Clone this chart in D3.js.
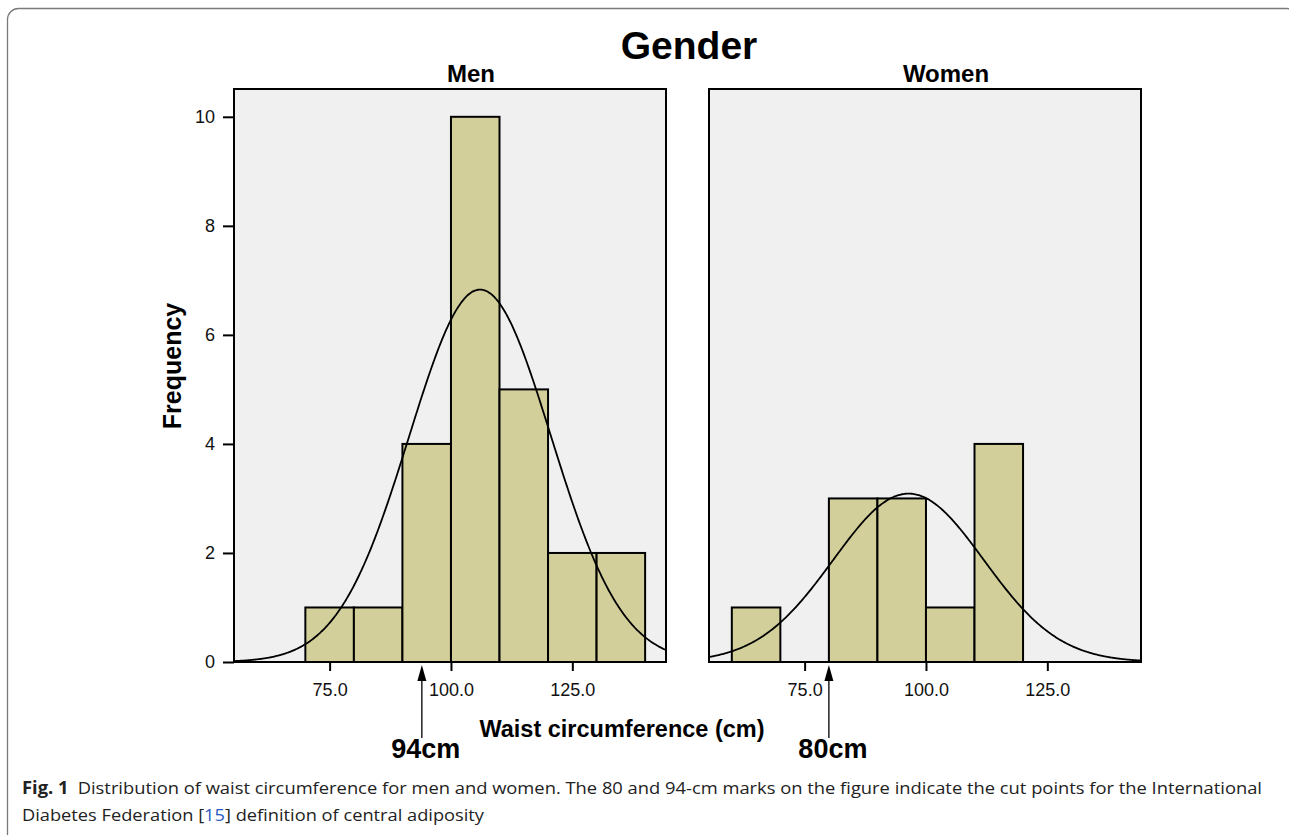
<!DOCTYPE html>
<html><head><meta charset="utf-8">
<script src="https://cdn.jsdelivr.net/npm/d3@7"></script>
<style>body{margin:0;background:#fff}svg{display:block}</style>
</head><body>
<svg id="c" width="1289" height="835"></svg>
<script>
// ---- data ----
const binStarts = [60, 70, 80, 90, 100, 110, 120, 130];
const binWidth = 10;
const menCounts   = [0, 1, 1, 4, 10, 5, 2, 2];
const womenCounts = [1, 0, 3, 3, 1, 4, 0, 0];
const menCurve   = {mean: 106.0, sd: 14.6, n: 25};
const womenCurve = {mean: 96.4,  sd: 15.5, n: 12};
const panels = ["Men", "Women"];
const xTicks = [75, 100, 125];
const yTicks = [0, 2, 4, 6, 8, 10];
const cutPoints = [94, 80];
const cutLabels = ["94cm", "80cm"];

const svg = d3.select("#c");
const FONT = "'Liberation Sans', Arial, sans-serif";

// outer frame
svg.append("rect").attr("x", 7.5).attr("y", 8.5).attr("width", 1290).attr("height", 860)
  .attr("rx", 11).attr("fill", "#fff").attr("stroke", "#7a7a7a").attr("stroke-width", 1.3);

const pTop = 89, pBottom = 662;
const panelX = [[234, 666], [709, 1141]];
const xDomain = [55.3, 144.3];
const y = d3.scaleLinear().domain([0, 10.51]).range([pBottom, pTop]);

const seriesList = [menCounts, womenCounts];
const curves = [menCurve, womenCurve];

panels.forEach((name, i) => {
  const [x0, x1] = panelX[i];
  const x = d3.scaleLinear().domain(xDomain).range([x0, x1]);
  const g = svg.append("g");
  g.append("rect").attr("x", x0).attr("y", pTop).attr("width", x1 - x0).attr("height", pBottom - pTop)
    .attr("fill", "#f0f0f0");
  // bars
  const data = binStarts.map((s, k) => ({s, c: seriesList[i][k]})).filter(d => d.c > 0);
  g.selectAll("rect.bar").data(data).join("rect").attr("class", "bar")
    .attr("x", d => x(d.s)).attr("width", d => x(d.s + binWidth) - x(d.s))
    .attr("y", d => y(d.c)).attr("height", d => y(0) - y(d.c))
    .attr("fill", "#d3cf9a").attr("stroke", "#000").attr("stroke-width", 2);
  // normal curve
  const cv = curves[i];
  const pts = d3.range(xDomain[0], xDomain[1] + 0.01, 0.25).map(v => {
    const z = (v - cv.mean) / cv.sd;
    return [v, cv.n * binWidth / (cv.sd * Math.sqrt(2 * Math.PI)) * Math.exp(-0.5 * z * z)];
  });
  g.append("path").datum(pts)
    .attr("d", d3.line().x(d => x(d[0])).y(d => y(d[1])).curve(d3.curveBasis))
    .attr("fill", "none").attr("stroke", "#000").attr("stroke-width", 1.8);
  // border
  g.append("rect").attr("x", x0).attr("y", pTop).attr("width", x1 - x0).attr("height", pBottom - pTop)
    .attr("fill", "none").attr("stroke", "#000").attr("stroke-width", 2);
  // x axis
  const xa = g.append("g").attr("transform", `translate(0,${pBottom})`)
    .call(d3.axisBottom(x).tickValues(xTicks).tickFormat(d3.format(".1f")).tickSize(9).tickPadding(12).tickSizeOuter(0));
  xa.select(".domain").remove();
  xa.selectAll("line").attr("stroke", "#000").attr("stroke-width", 2);
  xa.selectAll("text").attr("font-family", FONT).attr("font-size", 18).attr("fill", "#111");
  // panel label
  svg.append("text").attr("x", (x0 + x1) / 2 + 21).attr("y", 82).attr("text-anchor", "middle")
    .attr("font-family", FONT).attr("font-weight", "bold").attr("font-size", 24).text(name);
  // cut point arrow
  const cx = x(cutPoints[i]);
  svg.append("line").attr("x1", cx).attr("x2", cx).attr("y1", 738).attr("y2", 676)
    .attr("stroke", "#000").attr("stroke-width", 1.3);
  svg.append("path").attr("d", `M${cx},665 L${cx - 4.5},681 L${cx + 4.5},681 Z`).attr("fill", "#000");
  svg.append("text").attr("x", cx + 4).attr("y", 758).attr("text-anchor", "middle")
    .attr("font-family", FONT).attr("font-weight", "bold").attr("font-size", 27).text(cutLabels[i]);
});

// y axis
const ya = svg.append("g").attr("transform", `translate(${panelX[0][0]},0)`)
  .call(d3.axisLeft(y).tickValues(yTicks).tickSize(11).tickPadding(8).tickSizeOuter(0));
ya.select(".domain").remove();
ya.selectAll("line").attr("stroke", "#000").attr("stroke-width", 2);
ya.selectAll("text").attr("font-family", FONT).attr("font-size", 18).attr("fill", "#111");

// titles
svg.append("text").attr("x", 689).attr("y", 59).attr("text-anchor", "middle")
  .attr("font-family", FONT).attr("font-weight", "bold").attr("font-size", 39).text("Gender");
svg.append("text").attr("transform", "translate(181,366) rotate(-90)").attr("text-anchor", "middle")
  .attr("font-family", FONT).attr("font-weight", "bold").attr("font-size", 25).text("Frequency");
svg.append("text").attr("x", 622).attr("y", 737).attr("text-anchor", "middle")
  .attr("font-family", FONT).attr("font-weight", "bold").attr("font-size", 23.5).text("Waist circumference (cm)");

// caption
const CF = "'Open Sans', 'Noto Sans', sans-serif";
const l1 = svg.append("text").attr("x", 22).attr("y", 794).attr("font-family", CF).attr("font-size", 17)
  .attr("fill", "#222").attr("textLength", 1240).attr("lengthAdjust", "spacingAndGlyphs");
l1.append("tspan").attr("font-weight", "bold").text("Fig. 1");
l1.append("tspan").text("\u2002Distribution of waist circumference for men and women. The 80 and 94-cm marks on the figure indicate the cut points for the International");
const l2 = svg.append("text").attr("x", 22).attr("y", 821).attr("font-family", CF).attr("font-size", 17)
  .attr("fill", "#222").attr("textLength", 462).attr("lengthAdjust", "spacingAndGlyphs");
l2.append("tspan").text("Diabetes Federation [");
l2.append("tspan").attr("fill", "#2b59c3").text("15");
l2.append("tspan").text("] definition of central adiposity");
</script>
</body></html>
